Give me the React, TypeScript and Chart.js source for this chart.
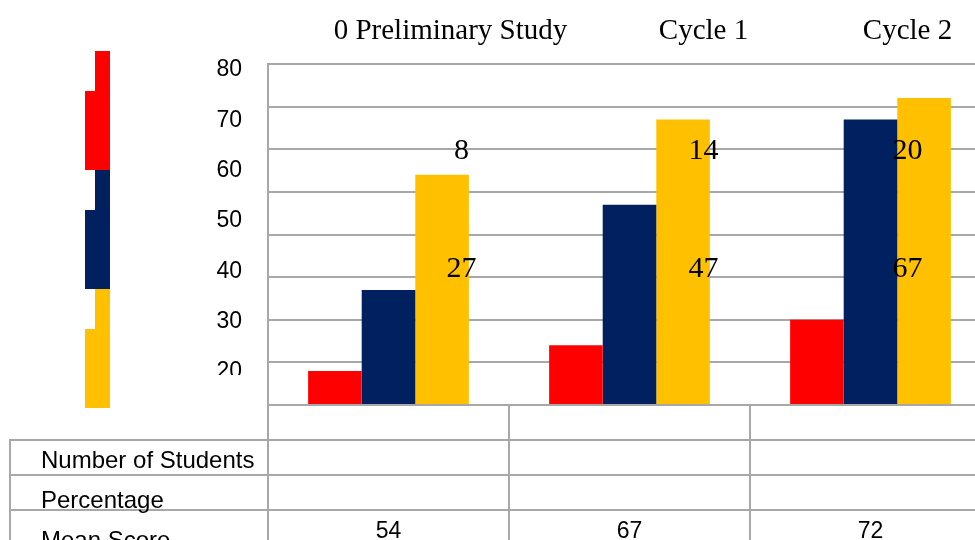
import React, { useEffect, useRef } from "react";
import { Chart, registerables } from "chart.js";

Chart.register(...registerables);

const TOP_LABELS = ["0 Preliminary Study", "Cycle 1", "Cycle 2"];
const CATEGORIES = ["Preliminary Study", "Cycle 1", "Cycle 2"];
const ROW_LABELS = ["Number of Students", "Percentage", "Mean Score"];
const STUDENTS = [8, 14, 20];
const PERCENTAGE = [27, 47, 67];
const MEAN_SCORE = [54, 67, 72];
const Y_TICK_LABELS = [80, 70, 60, 50, 40, 30, 20];

const RED = "#FF0000";
const NAVY = "#002060";
const GOLD = "#FFC000";
const GRID = "#a8a8a8";

const TOP_OFF = [62, 74, 37];
const LBL_OFF = [73, 74, 37];

const decoPlugin = {
  id: "deco",
  afterDraw(chart: any) {
    const { ctx } = chart;
    const x = chart.scales.x;
    const y = chart.scales.y;
    ctx.save();
    // clip lowest tick label like the reference
    ctx.fillStyle = "#fff";
    ctx.fillRect(150, 375, 112, 29);

    // broken legend keys
    chart.data.datasets.forEach((ds: any, i: number) => {
      const top = 51 + i * 119;
      ctx.fillStyle = ds.backgroundColor;
      ctx.fillRect(95, top, 15, 40);
      ctx.fillRect(85, top + 40, 25, 79);
    });

    // category labels at top
    ctx.fillStyle = "#000";
    ctx.textAlign = "center";
    ctx.textBaseline = "alphabetic";
    ctx.font = '29px "Liberation Serif"';
    TOP_LABELS.forEach((t, i) => {
      ctx.fillText(t, x.getPixelForValue(i) + TOP_OFF[i], 39);
    });

    // data labels
    ctx.font = '30px "Liberation Serif"';
    STUDENTS.forEach((v, i) => {
      ctx.fillText(String(v), x.getPixelForValue(i) + LBL_OFF[i], y.getPixelForValue(57.7));
    });
    PERCENTAGE.forEach((v, i) => {
      ctx.fillText(String(v), x.getPixelForValue(i) + LBL_OFF[i], y.getPixelForValue(30));
    });

    // data table
    ctx.strokeStyle = GRID;
    ctx.lineWidth = 2;
    [440, 475, 510].forEach((yy) => {
      ctx.beginPath();
      ctx.moveTo(10, yy);
      ctx.lineTo(chart.width, yy);
      ctx.stroke();
    });
    ctx.beginPath();
    ctx.moveTo(10, 439);
    ctx.lineTo(10, 540);
    ctx.stroke();

    ctx.fillStyle = "#000";
    ctx.textAlign = "left";
    ctx.font = '24px "Liberation Sans"';
    ROW_LABELS.forEach((t, i) => {
      ctx.fillText(t, 41, 468 + 40 * i);
    });
    ctx.textAlign = "center";
    ctx.font = '23px "Liberation Sans"';
    MEAN_SCORE.forEach((v, i) => {
      ctx.fillText(String(v), x.getPixelForValue(i), 538);
    });
    ctx.restore();
  },
};

export default function App() {
  const ref = useRef<HTMLCanvasElement | null>(null);

  useEffect(() => {
    if (!ref.current) return;
    const chart = new Chart(ref.current, {
      type: "bar",
      data: {
        labels: CATEGORIES,
        datasets: [
          { label: ROW_LABELS[0], data: STUDENTS, backgroundColor: RED, yAxisID: "y" },
          { label: ROW_LABELS[1], data: PERCENTAGE, backgroundColor: NAVY, yAxisID: "y" },
          { label: ROW_LABELS[2], data: MEAN_SCORE, backgroundColor: GOLD, yAxisID: "y" },
        ],
      },
      options: {
        responsive: false,
        animation: false,
        devicePixelRatio: 1,
        layout: { padding: { top: 64, left: 0, right: 0, bottom: 0 } },
        datasets: { bar: { categoryPercentage: 0.667, barPercentage: 1 } },
        plugins: { legend: { display: false }, tooltip: { enabled: false } },
        scales: {
          x: {
            position: "bottom",
            offset: true,
            ticks: { display: false },
            grid: {
              offset: true,
              drawOnChartArea: false,
              drawTicks: true,
              tickLength: 135,
              color: GRID,
              lineWidth: 2,
            },
            border: { display: true, color: GRID, width: 2 },
            afterFit: (axis: any) => {
              axis.height = 135;
            },
          },
          y: {
            position: "right",
            min: 0,
            max: 80,
            ticks: { display: false, stepSize: 10 },
            grid: { color: GRID, lineWidth: 2, drawTicks: false },
            border: { display: false },
            afterFit: (axis: any) => {
              axis.width = 0;
            },
          },
          yl: {
            position: "left",
            min: 13.44,
            max: 81.19,
            afterBuildTicks: (axis: any) => {
              axis.ticks = Y_TICK_LABELS.map((v) => ({ value: v }));
            },
            ticks: {
              color: "#000",
              padding: 26,
              font: { family: '"Liberation Sans"', size: 23 },
            },
            grid: { display: false, drawTicks: false },
            border: { display: true, color: GRID, width: 2 },
            afterFit: (axis: any) => {
              axis.width = 268;
            },
          },
        },
      },
      plugins: [decoPlugin],
    });
    return () => chart.destroy();
  }, []);

  return (
    <div
      style={{
        position: "absolute",
        left: 0,
        top: 0,
        width: 975,
        height: 540,
        overflow: "hidden",
        background: "#fff",
      }}
    >
      <canvas ref={ref} width={991} height={540} style={{ width: 991, height: 540, display: "block" }} />
    </div>
  );
}
